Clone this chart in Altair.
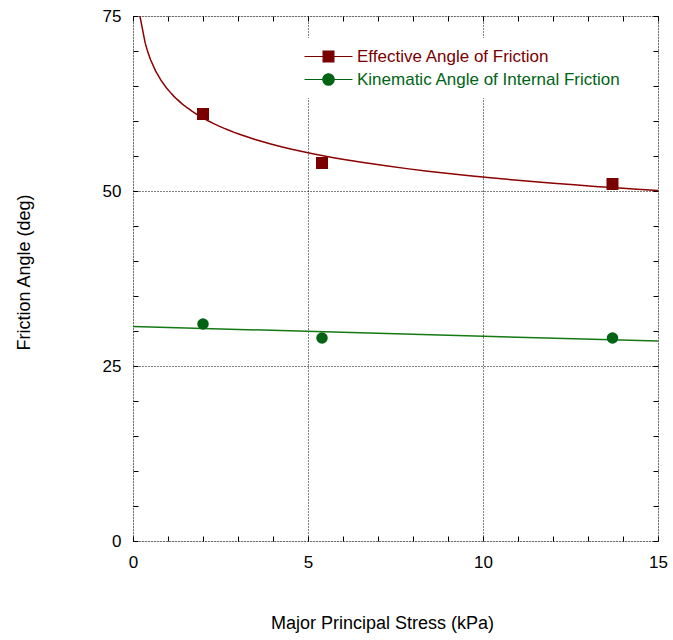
import altair as alt
import pandas as pd

series_names = ["Effective Angle of Friction", "Kinematic Angle of Internal Friction"]
stress_kpa = [2.0, 5.4, 13.7]
effective_deg = [61.0, 54.0, 51.0]
kinematic_deg = [31.0, 29.0, 29.0]
x_ticks = list(range(0, 16))
y_ticks = list(range(0, 80, 5))

marker_colors = ["#7a0000", "#006414"]
line_colors = ["#8b0000", "#137a13"]
legend_paths = [
    "M-2,0L6,0M1.1,-0.9L2.9,-0.9L2.9,0.9L1.1,0.9Z",
    "M-2,0L6,0M1.05,0A0.95,0.95,0,1,1,2.95,0A0.95,0.95,0,1,1,1.05,0Z",
]

df = pd.DataFrame({
    "stress": stress_kpa + stress_kpa,
    "angle": effective_deg + kinematic_deg,
    "series": [series_names[0]] * 3 + [series_names[1]] * 3,
})

FONT = "Liberation Sans"
x_scale = alt.Scale(domain=[0, 15], nice=False, zero=False)
y_scale = alt.Scale(domain=[0, 75], nice=False, zero=False)
color_scale = alt.Scale(domain=series_names, range=marker_colors)

grid_x = {"condition": {"test": "datum.value % 5 === 0", "value": 1}, "value": 0}
grid_y = {"condition": {"test": "datum.value % 25 === 0", "value": 1}, "value": 0}

common = dict(offset=-5, tickSize=5, tickColor="black", tickWidth=1, domain=False)

x_main = alt.Axis(
    orient="bottom", values=x_ticks,
    labelExpr="datum.value % 5 === 0 ? datum.label : ''",
    labelFlush=False, labelOverlap=False, labelPadding=13,
    labelFontSize=17, labelFont=FONT, labelColor="black",
    grid=True, gridColor="black", gridDash=[1, 2], gridWidth=1, gridOpacity=grid_x,
    title="Major Principal Stress (kPa)", titleFontSize=18, titleFont=FONT,
    titleFontWeight="normal", titleColor="black",
    titleX=249, titleY=92, titleBaseline="alphabetic",
    **common,
)
y_main = alt.Axis(
    orient="left", values=y_ticks,
    labelExpr="datum.value % 25 === 0 ? datum.label : ''",
    labelFlush=False, labelOverlap=False, labelPadding=12,
    labelFontSize=17, labelFont=FONT, labelColor="black",
    grid=True, gridColor="black", gridDash=[1, 2], gridWidth=1, gridOpacity=grid_y,
    title="Friction Angle (deg)", titleFontSize=18, titleFont=FONT,
    titleFontWeight="normal", titleColor="black",
    titleAngle=270, titleX=-109, titleY=256, titleBaseline="alphabetic",
    **common,
)
x_top = alt.Axis(orient="top", values=x_ticks, labels=False, grid=False, title="", **common)
y_right = alt.Axis(orient="right", values=y_ticks, labels=False, grid=False, title="", **common)

sym_expr = "datum.value === '%s' ? '%s' : '%s'" % (series_names[0], legend_paths[0], legend_paths[1])
legend_def = alt.Legend(
    orient="none", legendX=165, legendY=22, title=None, padding=10,
    fillColor="white",
    labelFontSize=17, labelFont=FONT, labelOffset=32, labelLimit=400,
    symbolSize=144, symbolType=alt.ExprRef(expr=sym_expr),
    symbolStrokeColor=alt.ExprRef(expr="scale('color', datum.value)"),
    symbolFillColor=alt.ExprRef(expr="scale('color', datum.value)"),
    symbolStrokeWidth=1.2, symbolOpacity=1,
    labelColor=alt.ExprRef(expr="scale('color', datum.value)"),
    rowPadding=5,
)

base = alt.Chart(df)

eff_line = (
    base.transform_filter(alt.datum.series == series_names[0])
    .transform_regression("stress", "angle", method="pow", extent=[0.05, 15])
    .mark_line(color=line_colors[0], strokeWidth=1.5, clip=True)
    .encode(
        x=alt.X("stress:Q", scale=x_scale, axis=None),
        y=alt.Y("angle:Q", scale=y_scale, axis=None),
    )
)

kin_line = (
    base.transform_filter(alt.datum.series == series_names[1])
    .transform_regression("stress", "angle", method="linear", extent=[0, 15])
    .mark_line(color=line_colors[1], strokeWidth=1.5, clip=True)
    .encode(
        x=alt.X("stress:Q", scale=x_scale, axis=x_top),
        y=alt.Y("angle:Q", scale=y_scale, axis=y_right),
    )
)

eff_pts = (
    base.transform_filter(alt.datum.series == series_names[0])
    .mark_point(shape="square", filled=True, opacity=1, size=144)
    .encode(
        x=alt.X("stress:Q", scale=x_scale, axis=x_main),
        y=alt.Y("angle:Q", scale=y_scale, axis=y_main),
        color=alt.Color("series:N", scale=color_scale, legend=legend_def),
    )
)

kin_pts = (
    base.transform_filter(alt.datum.series == series_names[1])
    .mark_point(shape="circle", filled=True, opacity=1, size=133)
    .encode(
        x=alt.X("stress:Q", scale=x_scale, axis=None),
        y=alt.Y("angle:Q", scale=y_scale, axis=None),
        color=alt.Color("series:N", scale=color_scale, legend=legend_def),
    )
)

chart = (
    alt.layer(eff_line, kin_line, eff_pts, kin_pts)
    .resolve_axis(x="independent", y="independent")
    .properties(
        width=525, height=525,
        autosize=alt.AutoSizeParams(type="none"),
        padding={"left": 133, "top": 16, "right": 15, "bottom": 99},
    )
    .configure_view(stroke="black", strokeWidth=1.5)
    .configure(font=FONT)
)

chart.save("out.html", embed_options={"renderer": "svg", "actions": False})
